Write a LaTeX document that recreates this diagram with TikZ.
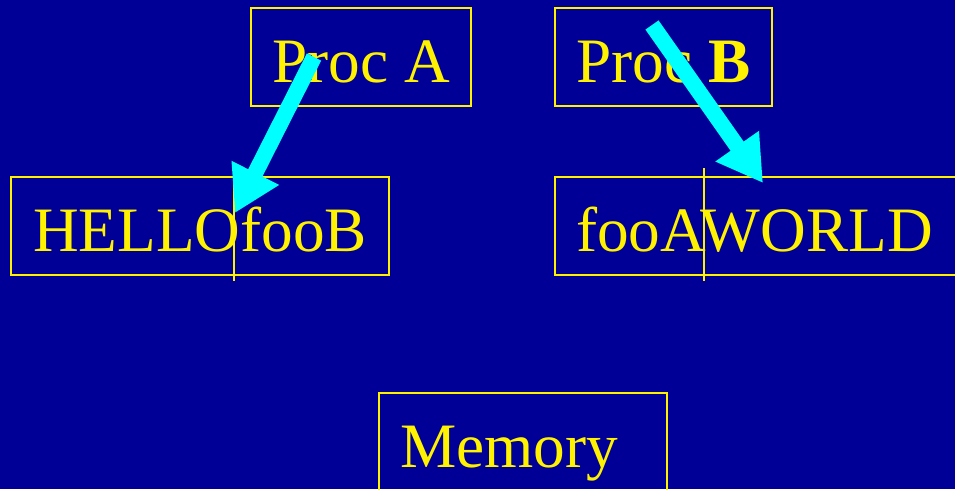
\documentclass[tikz,border=0pt]{standalone}
\usepackage{fontspec}
\setmainfont{Liberation Serif}
\usetikzlibrary{arrows.meta,positioning}

\definecolor{slideblue}{RGB}{0,0,150}
\definecolor{arrowcyan}{RGB}{0,255,255}

\begin{document}
\begin{tikzpicture}[
  every node/.style={font=\fontsize{36}{40}\selectfont, text=yellow},
  membox/.style={draw=yellow, line width=1.1pt, inner xsep=0.42cm, inner ysep=0pt,
    text height=1.48cm, text depth=0.48cm},
  split/.style={draw=yellow, line width=1.1pt},
  copyarrow/.style={-{Triangle[length=0.9cm,width=1cm]}, draw=arrowcyan, line width=0.32cm}
]
% Slide background
\fill[slideblue] (0,0) rectangle (19.1,-9.78);
\useasboundingbox (0,0) rectangle (19.1,-9.78);

% Processes
\node[membox,minimum width=4.4cm] (procA) at (7.22,-1.14) {Proc A};
\node[membox,minimum width=4.34cm] (procB) at (13.27,-1.14) {Proc \textbf{B}};

% Buffers of each process
\node[membox,minimum width=7.56cm] (bufA) at (4.0,-4.52) {HELLOfooB};
\node[membox,text width=7.46cm,align=left] (bufB) at (15.25,-4.52) {fooAWORLD};
\draw[split] (4.68,-3.36) -- (4.68,-5.62);
\draw[split] (14.08,-3.36) -- (14.08,-5.62);

% Shared memory
\node[membox,text width=4.92cm,align=left] (mem) at (10.46,-8.84) {Memory};

% Writes
\coordinate (writeA) at (6.28,-1.14);
\coordinate (destA) at (4.7,-4.26);
\coordinate (writeB) at (13.04,-0.5);
\coordinate (destB) at (15.26,-3.66);
\draw[copyarrow] (writeA) -- (destA);
\draw[copyarrow] (writeB) -- (destB);
\end{tikzpicture}
\end{document}
